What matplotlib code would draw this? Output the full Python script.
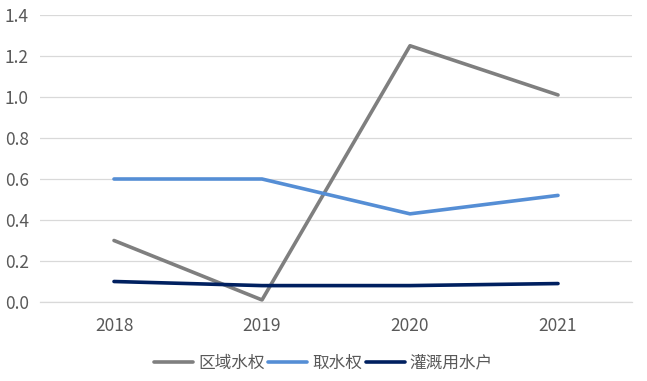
import matplotlib
matplotlib.use("Agg")
import matplotlib.pyplot as plt

plt.rcParams['font.family'] = ['Noto Sans CJK SC', 'DejaVu Sans']

years = ["2018", "2019", "2020", "2021"]
series_names = ["区域水权", "取水权", "灌溉用水户"]
regional = [0.30, 0.01, 1.25, 1.01]
withdrawal = [0.60, 0.60, 0.43, 0.52]
irrigation = [0.10, 0.08, 0.08, 0.09]
colors = ["#7f7f7f", "#558ed5", "#002060"]
yticks = [0.0, 0.2, 0.4, 0.6, 0.8, 1.0, 1.2, 1.4]

fig = plt.figure(figsize=(6.47, 3.81), dpi=100)
ax = fig.add_axes([40/647, 79/381, 592/647, 287/381])

x = range(len(years))
for vals, name, c in zip([regional, withdrawal, irrigation], series_names, colors):
    ax.plot(x, vals, color=c, lw=2.6, label=name, solid_capstyle='round', solid_joinstyle='round')

ax.set_xlim(-0.5, len(years) - 0.5)
ax.set_ylim(0, 1.4)
ax.set_yticks(yticks)
ax.set_yticklabels([f"{v:.1f}" for v in yticks])
ax.set_xticks(list(x))
ax.set_xticklabels(years)
ax.grid(axis='y', color='#d9d9d9', lw=0.9)
ax.set_axisbelow(True)
for s in ax.spines.values():
    s.set_visible(False)
ax.spines['bottom'].set_visible(True)
ax.spines['bottom'].set_color('#d9d9d9')
ax.spines['bottom'].set_linewidth(0.9)
ax.tick_params(length=0, labelsize=12.5, labelcolor='#595959')
ax.tick_params(axis='x', pad=11)
ax.tick_params(axis='y', pad=8)

leg = fig.legend(loc='center', bbox_to_anchor=(0.5, 1 - 363/381), ncol=3, frameon=False,
                 fontsize=12, handlelength=2.35, handletextpad=0.3, columnspacing=0.2,
                 labelcolor='#595959')

fig.savefig("out.png", dpi=100)
